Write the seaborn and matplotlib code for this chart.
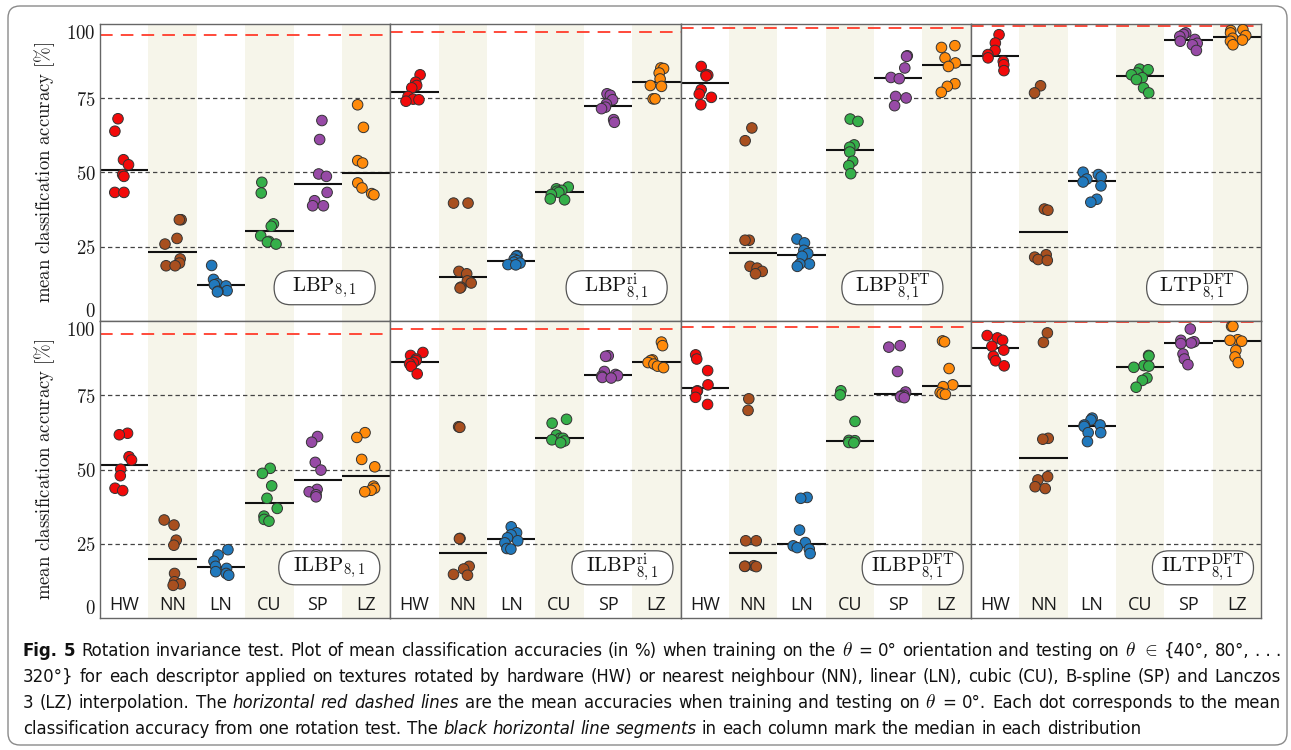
import numpy as np
import pandas as pd
import matplotlib
matplotlib.use("Agg")
import matplotlib.pyplot as plt
import seaborn as sns
from matplotlib import font_manager
from matplotlib.patches import FancyBboxPatch
from matplotlib.transforms import IdentityTransform

# ---------------- data ----------------
methods = ["HW", "NN", "LN", "CU", "SP", "LZ"]

lbp = {
    "HW": [68.1, 63.9, 54.3, 52.6, 49.3, 48.7, 43.3, 43.3],
    "NN": [34.1, 34.1, 27.8, 25.9, 20.9, 19.5, 18.6, 18.6],
    "LN": [18.7, 14.0, 12.5, 12.2, 11.8, 10.2, 10.0, 9.8],
    "CU": [46.7, 43.1, 32.7, 31.9, 28.7, 26.8, 26.6, 25.9],
    "SP": [67.5, 61.1, 49.5, 48.7, 43.3, 40.5, 38.8, 38.8],
    "LZ": [72.8, 65.2, 54.0, 53.2, 46.5, 44.8, 42.9, 42.5],
}
lbp_ri = {
    "HW": [82.9, 80.4, 79.3, 78.5, 75.6, 74.7, 74.5, 74.0],
    "NN": [39.7, 39.7, 16.7, 15.9, 13.5, 12.8, 11.4, 11.1],
    "LN": [22.0, 21.8, 20.8, 20.3, 19.8, 19.5, 19.0, 18.9],
    "CU": [45.1, 44.5, 44.0, 43.7, 43.3, 42.6, 41.1, 40.8],
    "SP": [76.5, 76.0, 74.5, 73.0, 72.0, 71.5, 67.8, 66.9],
    "LZ": [85.2, 85.0, 83.5, 81.5, 79.3, 79.0, 74.8, 74.8],
}
lbp_dft = {
    "HW": [85.7, 83.0, 82.8, 82.5, 77.9, 76.4, 75.3, 72.8],
    "NN": [65.0, 60.7, 27.2, 27.2, 18.4, 17.8, 16.7, 15.9],
    "LN": [27.6, 26.3, 23.8, 22.7, 21.8, 19.2, 19.2, 18.4],
    "CU": [68.0, 67.2, 59.3, 58.5, 56.9, 53.8, 52.3, 49.6],
    "SP": [89.3, 89.1, 85.2, 82.0, 81.6, 75.6, 75.1, 72.5],
    "LZ": [92.7, 92.1, 88.6, 86.9, 85.7, 79.9, 79.0, 77.0],
}
ltp_dft = {
    "HW": [96.4, 93.6, 91.1, 89.7, 88.6, 87.4, 86.3, 84.3],
    "NN": [79.2, 76.8, 37.7, 37.3, 22.3, 21.5, 20.7, 20.4],
    "LN": [50.1, 49.3, 48.5, 47.8, 46.8, 45.5, 41.0, 40.0],
    "CU": [84.8, 84.6, 83.5, 82.9, 81.9, 81.3, 78.5, 76.8],
    "SP": [97.0, 96.5, 95.8, 94.8, 94.2, 93.5, 93.0, 91.1],
    "LZ": [98.1, 97.8, 97.0, 96.1, 95.2, 94.6, 94.2, 93.0],
}
ilbp = {
    "HW": [62.2, 61.7, 54.3, 53.2, 50.1, 47.9, 43.7, 42.9],
    "NN": [33.0, 31.3, 26.2, 24.5, 15.0, 12.2, 11.5, 11.0],
    "LN": [23.0, 21.2, 19.1, 17.4, 16.7, 15.6, 15.0, 14.4],
    "CU": [50.4, 48.7, 44.5, 40.3, 36.9, 34.3, 33.2, 32.6],
    "SP": [61.1, 59.2, 52.4, 49.8, 43.3, 42.5, 41.5, 40.8],
    "LZ": [62.4, 60.8, 53.4, 50.9, 44.4, 43.7, 43.0, 42.5],
}
ilbp_ri = {
    "HW": [89.4, 88.4, 87.2, 86.7, 86.0, 85.6, 84.7, 82.2],
    "NN": [64.4, 64.2, 26.8, 26.7, 17.4, 16.5, 14.7, 14.4],
    "LN": [30.7, 28.7, 28.0, 27.0, 26.0, 25.3, 23.4, 23.2],
    "CU": [66.9, 65.6, 61.6, 60.5, 60.5, 60.0, 59.6, 59.0],
    "SP": [88.3, 88.1, 83.0, 82.0, 81.6, 81.4, 81.0, 80.8],
    "LZ": [92.9, 91.7, 86.9, 86.7, 86.0, 85.5, 84.8, 84.3],
}
ilbp_dft = {
    "HW": [88.6, 87.2, 83.3, 78.5, 76.5, 76.3, 74.3, 71.9],
    "NN": [73.8, 69.9, 26.0, 26.0, 17.6, 17.4, 17.4, 17.3],
    "LN": [40.6, 40.3, 29.6, 25.4, 24.3, 23.7, 23.2, 21.7],
    "CU": [76.5, 75.1, 66.2, 59.8, 59.7, 59.1, 59.1, 59.0],
    "SP": [91.7, 91.2, 83.0, 76.1, 75.0, 74.8, 74.5, 74.2],
    "LZ": [93.3, 93.0, 84.0, 78.5, 77.9, 75.9, 75.5, 75.3],
}
iltp_dft = {
    "HW": [95.1, 94.3, 93.5, 91.5, 90.2, 88.1, 86.6, 84.9],
    "NN": [96.0, 92.8, 60.5, 60.2, 47.6, 46.5, 44.2, 43.6],
    "LN": [67.3, 66.7, 65.0, 65.0, 64.5, 62.4, 62.4, 59.4],
    "CU": [88.4, 88.2, 85.0, 84.8, 84.4, 80.8, 80.0, 77.7],
    "SP": [97.3, 93.5, 93.0, 92.6, 92.4, 88.9, 87.2, 85.3],
    "LZ": [98.2, 98.2, 93.7, 93.5, 93.2, 90.1, 87.9, 86.0],
}

descriptors = [lbp, lbp_ri, lbp_dft, ltp_dft, ilbp, ilbp_ri, ilbp_dft, iltp_dft]
descriptor_labels = [
    r"$\mathrm{LBP}_{8,1}$",
    r"$\mathrm{LBP}_{8,1}^{\mathrm{ri}}$",
    r"$\mathrm{LBP}_{8,1}^{\mathrm{DFT}}$",
    r"$\mathrm{LTP}_{8,1}^{\mathrm{DFT}}$",
    r"$\mathrm{ILBP}_{8,1}$",
    r"$\mathrm{ILBP}_{8,1}^{\mathrm{ri}}$",
    r"$\mathrm{ILBP}_{8,1}^{\mathrm{DFT}}$",
    r"$\mathrm{ILTP}_{8,1}^{\mathrm{DFT}}$",
]
# mean accuracy when training and testing on theta = 0 (red dashed lines)
baseline_acc = [96.4, 97.2, 98.8, 99.4, 95.6, 97.3, 97.9, 99.7]

yticks = [0, 25, 50, 75, 100]

# ---------------- style ----------------
colors = {"HW": "#f20a0a", "NN": "#a84f1f", "LN": "#2179bd",
          "CU": "#35b04a", "SP": "#974aa6", "LZ": "#ff8a0a"}
stripe_color = "#f6f5ea"
label_pos = [(0.774, 0.112), (0.78, 0.112), (0.73, 0.112), (0.78, 0.112),
             (0.79, 0.169), (0.80, 0.169), (0.80, 0.169), (0.80, 0.169)]

sns.set_theme(style="white")
plt.rcParams["mathtext.fontset"] = "cm"
plt.rcParams["font.family"] = ["DejaVu Sans"]

names = {f.name for f in font_manager.fontManager.ttflist}
tick_family = "Open Sans" if "Open Sans" in names else "DejaVu Sans"
if "Liberation Sans Narrow" in names:
    cap_family, cap_stretch = "Liberation Sans Narrow", "normal"
else:
    cap_family, cap_stretch = "DejaVu Sans", "condensed"

W, H = 1291, 750
fig, axes = plt.subplots(2, 4, figsize=(W / 100, H / 100), dpi=100, sharey=True,
                         gridspec_kw=dict(wspace=0, hspace=0))
fig.subplots_adjust(left=100 / W, right=1261 / W, top=1 - 24 / H, bottom=1 - 618 / H)

np.random.seed(11)
for k, ax in enumerate(axes.flat):
    data = descriptors[k]
    df = pd.DataFrame([(m, v) for m in methods for v in data[m]],
                      columns=["method", "acc"])
    for i in (1, 3, 5):
        ax.axvspan(i - 0.5, i + 0.5, color=stripe_color, lw=0, zorder=0)
    for g in (25, 50, 75):
        ax.axhline(g, color="#444444", lw=0.9, dashes=(3.5, 2.5), zorder=0.5)
    ax.axhline(baseline_acc[k], color="#ff3b2b", lw=1.3, dashes=(7, 4.5), zorder=2)
    med = df.groupby("method")["acc"].median()
    for i, m in enumerate(methods):
        ax.hlines(med[m], i - 0.5, i + 0.5, color="#111111", lw=1.5, zorder=2)
    sns.stripplot(data=df, x="method", y="acc", hue="method", order=methods,
                  hue_order=methods, palette=colors, jitter=0.2, size=7.6,
                  linewidth=0.7, edgecolor="#333333", legend=False, ax=ax, zorder=3)
    ax.set_xlim(-0.5, 5.5)
    ax.set_ylim(0, 100)
    ax.set_xlabel("")
    ax.set_ylabel("")
    for sp in ax.spines.values():
        sp.set_color("#666666")
        sp.set_linewidth(1.0)

    # descriptor label box
    cx, cy = label_pos[k]
    bw, bh = 101 / 290, 34 / 297
    box = FancyBboxPatch((cx - bw / 2, cy - bh / 2), bw, bh,
                         boxstyle=f"round,pad=0,rounding_size={bh / 2}",
                         transform=ax.transAxes, fc="white", ec="#555555",
                         lw=0.9, zorder=4)
    ax.add_patch(box)
    ax.text(cx, cy, descriptor_labels[k], transform=ax.transAxes, ha="center",
            va="center", fontsize=15, zorder=5, color="#111111")

    ax.tick_params(axis="both", length=0)
    if k < 4:
        ax.tick_params(axis="x", labelbottom=False)
    else:
        ax.set_xticks(range(len(methods)))
        ax.set_xticklabels(methods)
        ax.tick_params(axis="x", pad=-16, labelsize=13, labelcolor="#1a1a1a")
        for lbl in ax.get_xticklabels():
            lbl.set_fontfamily(tick_family)
            lbl.set_zorder(6)

for r in range(2):
    ax = axes[r, 0]
    ax.set_yticks(yticks)
    ax.set_yticklabels([f"${t}$" for t in yticks])
    ax.tick_params(axis="y", pad=3, labelsize=13.5, labelcolor="#1a1a1a")
    labels = ax.get_yticklabels()
    labels[0].set_va("bottom")
    labels[-1].set_va("top")
    ax.set_ylabel(r"$\mathrm{mean\ classification\ accuracy\ [\%]}$",
                  fontsize=13.5, labelpad=7, color="#1a1a1a")
    for c in range(1, 4):
        axes[r, c].tick_params(axis="y", labelleft=False)

# ---------------- outer frame ----------------
frame = FancyBboxPatch((8, 5), 1279, 739, boxstyle="round,pad=0,rounding_size=12",
                       transform=IdentityTransform(), fc="none", ec="#8a8a8a",
                       lw=1.0, zorder=10)
fig.add_artist(frame)

# ---------------- caption ----------------
caption_lines = [
    [("Fig. 5", "b"),
     ("Rotation invariance test. Plot of mean classification accuracies (in %) when training on the", "r"),
     ("θ", "m"), ("= 0° orientation and testing on", "r"), ("θ ∈", "m"), ("{40°, 80°, . . .", "r")],
    [("320°} for each descriptor applied on textures rotated by hardware (HW) or nearest neighbour (NN), linear (LN), cubic (CU), B-spline (SP) and Lanczos", "r")],
    [("3 (LZ) interpolation. The", "r"), ("horizontal red dashed lines", "i"),
     ("are the mean accuracies when training and testing on", "r"), ("θ", "m"),
     ("= 0°. Each dot corresponds to the mean", "r")],
    [("classification accuracy from one rotation test. The", "r"),
     ("black horizontal line segments", "i"),
     ("in each column mark the median in each distribution", "r")],
]
math_map = {"θ": r"$\theta$", "∈": r"$\in$"}

renderer = fig.canvas.get_renderer()


def style_kw(st, fs):
    kw = dict(family=cap_family, fontstretch=cap_stretch, fontsize=fs, color="#111111")
    if st == "b":
        kw["weight"] = "bold"
    elif st == "i":
        kw["style"] = "italic"
    elif st == "m":
        kw["fontsize"] = fs * 1.05
    return kw


def tokens(line):
    out = []
    for seg, st in line:
        words = seg.split(" ")
        if ". . ." in seg:
            words = seg.replace(". . .", "\u0000").split(" ")
            words = [w.replace("\u0000", ". . .") for w in words]
        for w in words:
            if st == "m":
                out.append((math_map.get(w, w), st))
            else:
                out.append((w, st))
    return out


def text_width(s, st, fs):
    t = fig.text(0, 0, s, **style_kw(st, fs))
    w = t.get_window_extent(renderer).width
    t.remove()
    return w


x_left, x_right = 23, 1281
target = x_right - x_left
fs0 = 12.0
toks2 = tokens(caption_lines[1])
sp0 = text_width("n n", "r", fs0) - text_width("nn", "r", fs0)
nat = sum(text_width(w, s, fs0) for w, s in toks2) + sp0 * (len(toks2) - 1)
fs = fs0 * (target * 0.985) / nat
space = text_width("n n", "r", fs) - text_width("nn", "r", fs)

baselines = [656, 682, 708, 734]
for li, line in enumerate(caption_lines):
    toks = tokens(line)
    widths = [text_width(w, s, fs) for w, s in toks]
    if li < len(caption_lines) - 1:
        gap = (target - sum(widths)) / (len(toks) - 1)
    else:
        gap = space
    x = x_left
    for (w, s), wd in zip(toks, widths):
        fig.text(x / W, 1 - baselines[li] / H, w, ha="left", va="baseline",
                 **style_kw(s, fs))
        x += wd + gap

fig.savefig("out.png", dpi=100)
